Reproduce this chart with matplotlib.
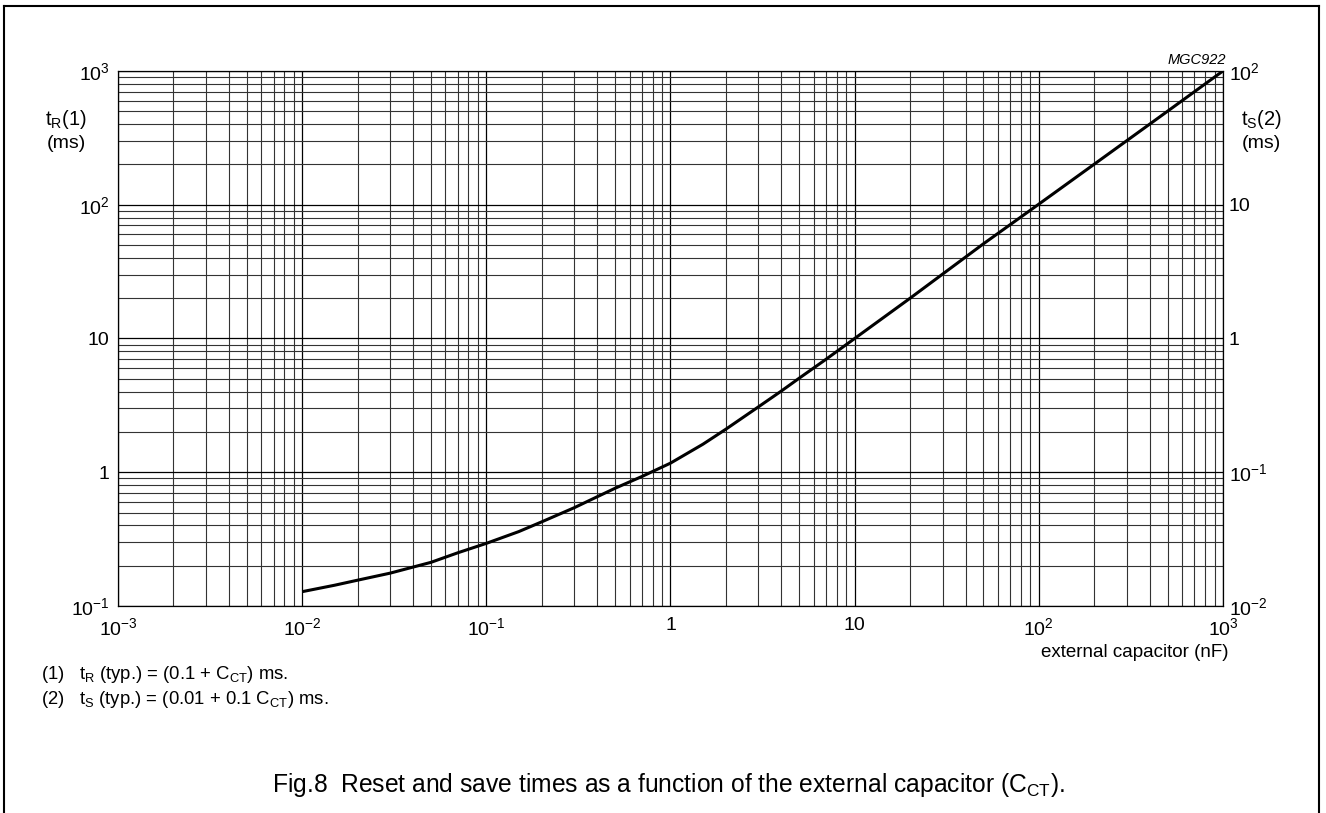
import numpy as np
import matplotlib
matplotlib.use('Agg')
import matplotlib.pyplot as plt
from matplotlib.lines import Line2D

plt.rcParams['font.family'] = ['Liberation Sans', 'DejaVu Sans']
plt.rcParams['mathtext.fontset'] = 'custom'
plt.rcParams['mathtext.rm'] = 'Liberation Sans'
plt.rcParams['mathtext.it'] = 'Liberation Sans:italic'
plt.rcParams['mathtext.default'] = 'regular'

# curve (external capacitor nF -> t_R ms)
cap_nf = [0.01, 0.015, 0.02, 0.03, 0.05, 0.07, 0.1, 0.15, 0.2, 0.3, 0.4, 0.5, 0.7, 1,
          1.5, 2, 3, 4, 5, 7, 10, 20, 50, 100, 200, 500, 1000]
t_r_ms = [0.128, 0.143, 0.156, 0.176, 0.212, 0.25, 0.294, 0.36, 0.426, 0.543, 0.656, 0.759, 0.93, 1.17,
          1.62, 2.1, 3.08, 4.05, 5.05, 7.0, 10, 20, 51, 101, 201, 500, 1000]

x_ticks = [1e-3, 1e-2, 1e-1, 1, 10, 1e2, 1e3]
x_labels = ['$10^{-3}$', '$10^{-2}$', '$10^{-1}$', '1', '10', '$10^{2}$', '$10^{3}$']
yl_ticks = [1e-1, 1, 10, 1e2, 1e3]
yl_labels = ['$10^{-1}$', '1', '10', '$10^{2}$', '$10^{3}$']
yr_ticks = [1e-2, 1e-1, 1, 10, 1e2]
yr_labels = ['$10^{-2}$', '$10^{-1}$', '1', '10', '$10^{2}$']

fig = plt.figure(figsize=(13.26, 8.13), dpi=100)
ax = fig.add_axes([0.089, 0.2546, 0.8333, 0.6581])

ax.plot(cap_nf, t_r_ms, color='black', lw=2.2, solid_capstyle='butt', zorder=5)
ax.set_xscale('log')
ax.set_yscale('log')
ax.set_xlim(1e-3, 1e3)
ax.set_ylim(1e-1, 1e3)

ax.set_xticks(x_ticks)
ax.set_xticklabels(x_labels)
ax.set_yticks(yl_ticks)
ax.set_yticklabels(yl_labels)
ax.tick_params(which='both', length=0, labelsize=14, pad=6)
ax.tick_params(axis='x', pad=8)

ax.grid(True, which='major', color='black', lw=0.9)
ax.grid(True, which='minor', color='#333333', lw=0.8)
for s in ax.spines.values():
    s.set_linewidth(0.9)

ax2 = ax.twinx()
ax2.set_yscale('log')
ax2.set_ylim(1e-2, 1e2)
ax2.set_yticks(yr_ticks)
ax2.set_yticklabels(yr_labels)
ax2.tick_params(which='both', length=0, labelsize=14, pad=4)
for s in ax2.spines.values():
    s.set_visible(False)

fs = 13.5
fig.text(0.05, 0.853, 't$_{R}$(1)', fontsize=14.5, ha='center', va='center')
fig.text(0.05, 0.823, '(ms)', fontsize=14, ha='center', va='center')
fig.text(0.951, 0.853, 't$_{S}$(2)', fontsize=14.5, ha='center', va='center')
fig.text(0.951, 0.823, '(ms)', fontsize=14, ha='center', va='center')
fig.text(0.9245, 0.917, 'MGC922', fontsize=10.5, style='italic', ha='right', va='bottom')
fig.text(0.9265, 0.198, 'external capacitor (nF)', fontsize=fs, ha='right', va='center')

fig.text(0.031, 0.170, '(1)   t$_{R}$ (typ.) = (0.1 + C$_{CT}$) ms.', fontsize=13.3, ha='left', va='center')
fig.text(0.031, 0.139, '(2)   t$_{S}$ (typ.) = (0.01 + 0.1 C$_{CT}$) ms.', fontsize=13.3, ha='left', va='center')
fig.text(0.504, 0.034, 'Fig.8  Reset and save times as a function of the external capacitor (C$_{CT}$).',
         fontsize=17.7, ha='center', va='center')

# page frame
frame = dict(color='black', lw=1.5, transform=fig.transFigure)
fig.add_artist(Line2D([0.003, 0.003], [0.0, 0.993], **frame))
fig.add_artist(Line2D([0.003, 0.9945], [0.993, 0.993], **frame))
fig.add_artist(Line2D([0.9945, 0.9945], [0.0, 0.993], **frame))

fig.savefig('out.png', dpi=100)
